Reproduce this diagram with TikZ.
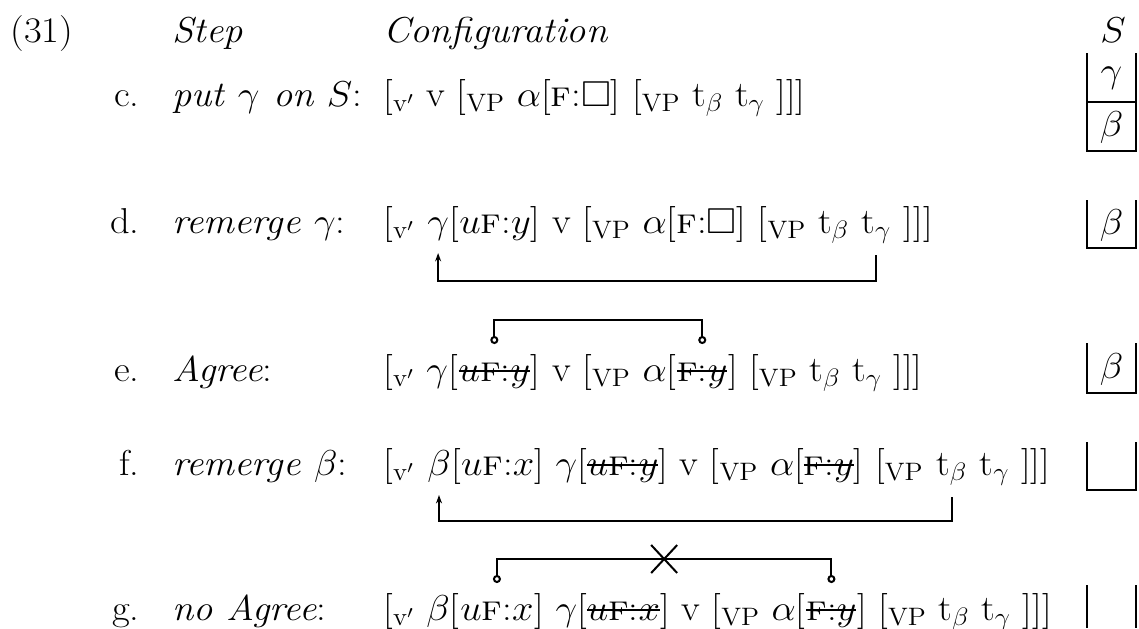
\IfFileExists{fix-cm.sty}{\RequirePackage{fix-cm}}{}
\documentclass[tikz,border=0pt]{standalone}
\usepackage{graphicx}
\usepackage{amssymb}
\usetikzlibrary{arrows.meta,shapes.misc,calc}
\newsavebox{\strkbox}
\newcommand{\strk}[1]{\sbox{\strkbox}{#1}\rlap{\usebox{\strkbox}}\rule[0.24em]{\wd\strkbox}{1pt}}
\newcommand{\vbr}{[$_{\mathrm{v}'}$}
\newcommand{\vpbr}{[$_{\mathrm{VP}}$}
\newcommand{\fsc}{\textsc{f}}
\newcommand{\W}[1]{\scalebox{1.07}[1]{#1}}
\begin{document}
\begin{tikzpicture}[x=0.5pt,y=-0.5pt,
  every node/.style={inner sep=0pt, font=\fontsize{18}{21}\selectfont},
  tx/.style={anchor=base west},
  lab/.style={anchor=base east},
  mv/.style={line width=1pt, -{Stealth[length=4.2pt,width=3pt]}},
  ag/.style={line width=1pt, {Circle[open,length=4pt,width=4pt]}-{Circle[open,length=4pt,width=4pt]}},
  stk/.style={line width=1.2pt},
  blocked/.style={cross out, draw, line width=1pt, minimum width=12pt, minimum height=13pt}]
\useasboundingbox (0,0) rectangle (1139,628);

% header
\node[anchor=base west] (n31) at (10,42) {\W{(31)}};
\node[tx] (hstep) at (172,42) {\W{\textit{Step}}};
\node[tx] (hconf) at (383,42) {\W{\textit{Configuration}}};
\node[anchor=base] (hS) at (1113,42) {\W{$S$}};

% row c
\node[lab] (lc) at (140,106) {\W{c.}};
\node[tx] (sc) at (172,106) {\W{\textit{put $\gamma$ on $S$}:}};
\node[tx] (cc) at (383,106) {\W{\vbr{} v \vpbr{} $\alpha$[\fsc:$\square$] \vpbr{} t$_\beta$ t$_\gamma$ ]]]}};

% row d
\node[lab] (ld) at (140,233) {\W{d.}};
\node[tx] (sd) at (172,233) {\W{\textit{remerge $\gamma$}:}};
\node[tx] (d0) at (383,233) {\W{\vbr~\null}};
\node[tx] (dG) at (d0.base east) {\W{$\gamma$}};
\node[tx] (d1) at (dG.base east) {\W{[$u$\fsc:$y$] v \vpbr{} $\alpha$[\fsc:$\square$] \vpbr{} t$_\beta$~\null}};
\node[tx] (dT) at (d1.base east) {\W{t$_\gamma$}};
\node[tx] (d2) at (dT.base east) {\W{~]]]}};
\draw[mv] ([yshift=-11pt]dT.base) -- ++(0,26) -| ([yshift=-10pt]dG.base);

% row e
\node[lab] (le) at (140,381) {\W{e.}};
\node[tx] (se) at (172,381) {\W{\textit{Agree}:}};
\node[tx] (e0) at (383,381) {\W{\vbr{} $\gamma$[}};
\node[tx] (eU) at (e0.base east) {\W{\strk{$u$\fsc:$y$}}};
\node[tx] (e1) at (eU.base east) {\W{] v \vpbr{} $\alpha$[}};
\node[tx] (eA) at (e1.base east) {\W{\strk{\fsc:$y$}}};
\node[tx] (e2) at (eA.base east) {\W{] \vpbr{} t$_\beta$ t$_\gamma$ ]]]}};
\draw[ag] ([yshift=18.5pt]eU.base) -- ++(0,-24) -| ([yshift=18.5pt]eA.base);

% row f
\node[lab] (lf) at (140,475) {\W{f.}};
\node[tx] (sf) at (172,475) {\W{\textit{remerge $\beta$}:}};
\node[tx] (f0) at (383,475) {\W{\vbr~\null}};
\node[tx] (fB) at (f0.base east) {\W{$\beta$}};
\node[tx] (f1) at (fB.base east) {\W{[$u$\fsc:$x$] $\gamma$[\strk{$u$\fsc:$y$}] v \vpbr{} $\alpha$[\strk{\fsc:$y$}] \vpbr~\null}};
\node[tx] (fT) at (f1.base east) {\W{t$_\beta$}};
\node[tx] (f2) at (fT.base east) {\W{~t$_\gamma$ ]]]}};
\draw[mv] ([yshift=-11pt]fT.base) -- ++(0,24) -| ([yshift=-10pt]fB.base);

% row g
\node[lab] (lg) at (140,620) {\W{g.}};
\node[tx] (sg) at (172,620) {\W{\textit{no Agree}:}};
\node[tx] (g0) at (383,620) {\W{\vbr{} $\beta$[}};
\node[tx] (gU) at (g0.base east) {\W{$u$\fsc:$x$}};
\node[tx] (g1) at (gU.base east) {\W{] $\gamma$[\strk{$u$\fsc:$x$}] v \vpbr{} $\alpha$[}};
\node[tx] (gA) at (g1.base east) {\W{\strk{\fsc:$y$}}};
\node[tx] (g2) at (gA.base east) {\W{] \vpbr{} t$_\beta$ t$_\gamma$ ]]]}};
\draw[ag] ([yshift=18.5pt]gU.base) -- ++(0,-24) coordinate (gL) -| ([yshift=18.5pt]gA.base) coordinate (gR);
\path (gL) -- (gL -| gR) node[midway, blocked] (gX) {};

% stacks S
\draw[stk] (1087,53) -- (1087,151) -- (1136,151) -- (1136,53);
\draw[stk] (1087,102) -- (1136,102);
\node (scg) at (1111.5,78) {\W{$\gamma$}};
\node (scb) at (1111.5,127) {\W{$\beta$}};
\draw[stk] (1087,200) -- (1087,248) -- (1136,248) -- (1136,200);
\node (sdb) at (1111.5,225) {\W{$\beta$}};
\draw[stk] (1087,343) -- (1087,393) -- (1136,393) -- (1136,343);
\node (seb) at (1111.5,369) {\W{$\beta$}};
\draw[stk] (1087,442) -- (1087,490) -- (1136,490) -- (1136,442);
\draw[stk] (1087,585) -- (1087,628);
\draw[stk] (1136,585) -- (1136,628);
\end{tikzpicture}
\end{document}
